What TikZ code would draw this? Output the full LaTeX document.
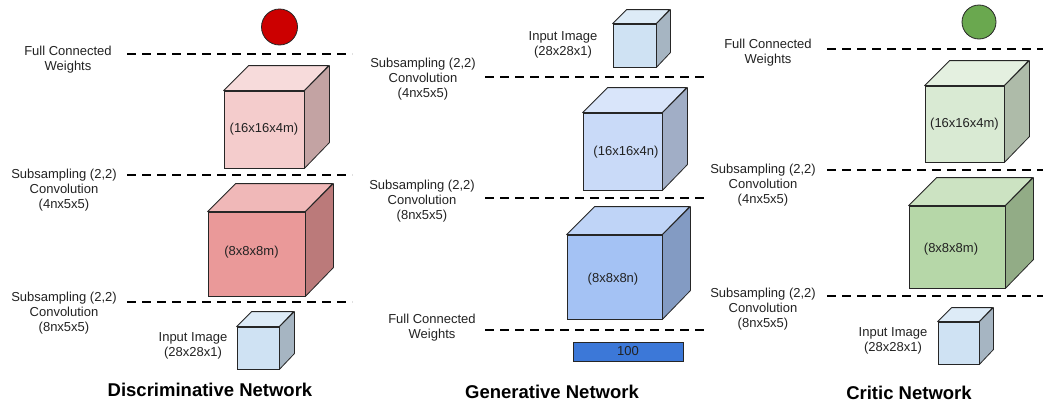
\documentclass[tikz,border=0pt]{standalone}
\usepackage{fontspec}
\setmainfont{Liberation Sans}
\definecolor{dpinkA}{HTML}{F4CCCC}
\definecolor{dpinkB}{HTML}{EA9999}
\definecolor{inblue}{HTML}{CFE2F3}
\definecolor{gblueA}{HTML}{C9DAF8}
\definecolor{gblueB}{HTML}{A4C2F4}
\definecolor{barblue}{HTML}{3C78D8}
\definecolor{cgreenA}{HTML}{D9EAD3}
\definecolor{cgreenB}{HTML}{B6D7A8}
\definecolor{cred}{HTML}{CC0000}
\definecolor{cgreen}{HTML}{6AA84F}
\definecolor{txt}{HTML}{222222}
\tikzset{
  cubefront/.style={draw=black!85, line width=0.8pt, rectangle, inner sep=0pt, text=txt, font=\fontsize{13}{15}\selectfont},
  cubeedge/.style={draw=black!85, line width=0.8pt, line join=round},
  sepline/.style={line width=2pt, dash pattern=on 9pt off 6pt},
  lbl/.style={align=center, anchor=north, inner sep=0pt, text=txt, font=\fontsize{13}{15}\selectfont},
  ttl/.style={anchor=base, inner sep=0pt, font=\fontsize{18.5}{20}\selectfont\bfseries},
  ball/.style={circle, draw=black!85, line width=0.8pt, inner sep=0pt},
}
% #1 name, #2 x, #3 y, #4 w, #5 h, #6 depth, #7 colour, #8 text, #9 text shift (dx,dy)
\newcommand\netcube[9]{%
  \node[cubefront, fill=#7, minimum width=#4pt, minimum height=#5pt] (#1) at ({#2+#4/2},{#3+#5/2}) {};
  \draw[cubeedge, fill=#7!70!white] (#1.north west) -- ++(#6,-#6) -- ++(#4,0) -- (#1.north east) -- cycle;
  \draw[cubeedge, fill=#7!80!black] (#1.north east) -- ++(#6,-#6) -- ++(0,#5) -- (#1.south east) -- cycle;
  \node[inner sep=0pt, text=txt, font=\fontsize{13}{15}\selectfont] (#1t) at ($(#1.center)+#9$) {#8};
}
\usetikzlibrary{calc}
\begin{document}
\begin{tikzpicture}[x=1pt,y=-1pt]
\useasboundingbox (0,0) rectangle (1044,407);
% ---------------- Discriminative ----------------
\node[ball, fill=cred, minimum size=36pt] (dout) at (279.5,27) {};
\draw[sepline] (127,54) -- (352,54);
\draw[sepline] (127,175) -- (352,175);
\draw[sepline] (127,302) -- (352,302);
\node[lbl] (dl1) at (68,46) {Full Connected\\Weights};
\node[lbl] (dl2) at (64,169) {Subsampling (2,2)\\Convolution\\(4nx5x5)};
\node[lbl] (dl3) at (64,292) {Subsampling (2,2)\\Convolution\\(8nx5x5)};
\netcube{dc1}{224}{91}{80}{77}{25}{dpinkA}{(16x16x4m)}{(0,0)}
\netcube{dc2}{208}{212}{97}{84}{28}{dpinkB}{(8x8x8m)}{(-5,-2)}
\netcube{din}{237}{327}{42}{42}{15}{inblue}{}{(0,0)}
\node[lbl] (dinl) at (193,332) {Input Image\\(28x28x1)};
\node[ttl] (dt) at (210,396) {Discriminative Network};
% ---------------- Generative ----------------
\netcube{gin}{613}{24}{43}{43}{14}{inblue}{}{(0,0)}
\node[lbl] (ginl) at (563,31) {Input Image\\(28x28x1)};
\draw[sepline] (485,77) -- (707,77);
\draw[sepline] (485,198) -- (707,198);
\draw[sepline] (485,330) -- (707,330);
\node[lbl] (gl1) at (423,58) {Subsampling (2,2)\\Convolution\\(4nx5x5)};
\node[lbl] (gl2) at (422,180) {Subsampling (2,2)\\Convolution\\(8nx5x5)};
\node[lbl] (gl3) at (432,314) {Full Connected\\Weights};
\netcube{gc1}{583}{113}{79}{77}{25}{gblueA}{(16x16x4n)}{(3.5,0.5)}
\netcube{gc2}{567}{235}{95}{84}{28}{gblueB}{(8x8x8n)}{(-1.5,2)}
\node[cubefront, fill=barblue, minimum width=110pt, minimum height=19pt] (gz) at (628,351.5) {100};
\node[ttl] (gt) at (552,398) {Generative Network};
% ---------------- Critic ----------------
\node[ball, fill=cgreen, minimum size=34pt] (cout) at (979,22) {};
\draw[sepline] (827,49) -- (1043,49);
\draw[sepline] (827,170) -- (1043,170);
\draw[sepline] (827,296) -- (1043,296);
\node[lbl] (cl1) at (768,39) {Full Connected\\Weights};
\node[lbl] (cl2) at (763,164) {Subsampling (2,2)\\Convolution\\(4nx5x5)};
\node[lbl] (cl3) at (763,288) {Subsampling (2,2)\\Convolution\\(8nx5x5)};
\netcube{cc1}{925}{86}{79}{76}{25}{cgreenA}{(16x16x4m)}{(0,0)}
\netcube{cc2}{909}{206}{96}{82}{28}{cgreenB}{(8x8x8m)}{(-6,2)}
\netcube{cin}{938}{322}{41}{42}{14}{inblue}{}{(0,0)}
\node[lbl] (cinl) at (893,327) {Input Image\\(28x28x1)};
\node[ttl] (ct) at (909,399) {Critic Network};
\end{tikzpicture}
\end{document}
